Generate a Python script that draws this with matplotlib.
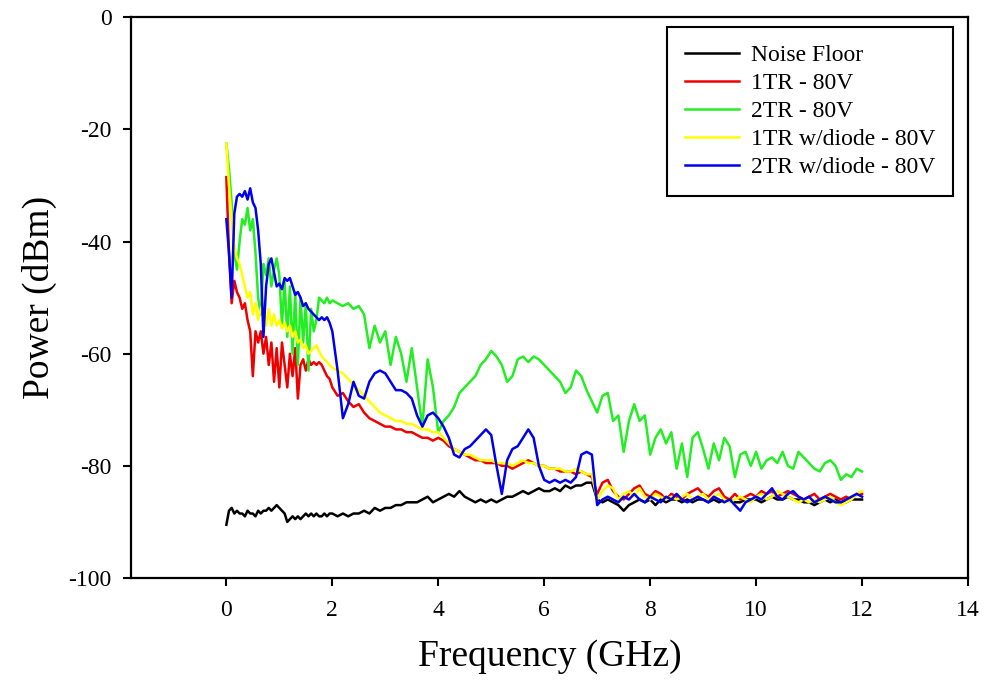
import numpy as np
import matplotlib
matplotlib.use("Agg")
import matplotlib.pyplot as plt

# ---------------- data ----------------
freq_lo = np.round(np.arange(40) * 0.05, 2)          # 0.00 .. 1.95 GHz
freq_hi = np.round(2.0 + np.arange(101) * 0.1, 2)    # 2.0 .. 12.0 GHz
freq = np.concatenate([freq_lo, freq_hi])

noise_floor = [
    -90.5, -88, -87.5, -88.5, -88, -88.5, -88.5, -89, -88, -88.5,
    -88.5, -89, -88, -88.5, -88, -88, -87.5, -88, -87.5, -87,
    -87.5, -88, -88.5, -90, -89.5, -89, -89.5, -89, -89.5, -89,
    -88.5, -89, -88.5, -89, -88.5, -89, -89, -88.5, -89, -88.5,
    # 2.0 ..
    -88.5, -89, -88.5, -89, -88.5, -88.5, -88, -88.5, -87.5, -88,
    -87.5, -87.5, -87, -87, -86.5, -86.5, -86.5, -86, -85.5, -86.5,
    -86, -85.5, -85, -85.5, -84.5, -85.5, -86, -86.5, -86, -86.5,
    -86, -86.5, -86, -85.5, -85.5, -85, -84.5, -85, -84.5, -84,
    -84.5, -84.5, -84, -84.5, -83.5, -84, -83.5, -83.5, -83, -83,
    -86, -86.5, -86, -86.5, -87, -88, -87, -86.5, -86, -86.5,
    -86, -87, -86, -86.5, -86, -86, -86.5, -86, -86.5, -86,
    -86, -86.5, -86, -86.5, -86, -86, -86.5, -86.5, -86, -86,
    -86, -86.5, -86, -85.5, -86, -86, -85.5, -86, -86, -86.5,
    -86.5, -87, -86.5, -86, -86.5, -86, -86.5, -86.5, -86, -86,
    -86,
]

tr1 = [
    -28.5, -42, -51, -47, -49, -50, -52, -51, -54, -56,
    -64, -56, -58, -56, -60, -57, -62, -58, -65, -59,
    -66, -58, -62, -66, -60, -64, -59, -68, -62, -61,
    -63, -61, -62, -61.5, -62, -61.5, -62, -63, -64, -64.5,
    # 2.0 ..
    -66, -67.5, -67, -68.5, -69.5, -69, -70.5, -71.5, -72, -72.5,
    -73, -73, -73.5, -73.5, -74, -74, -74.5, -75, -75, -75.5,
    -75, -75.5, -76.5, -77, -77.5, -78, -78.5, -79, -79, -79.5,
    -79.5, -79.5, -80, -80, -80.5, -80, -79.5, -79, -79.5, -80,
    -80, -80.5, -80.5, -81, -81, -81, -81.5, -81, -81.5, -82,
    -85, -83, -82.5, -84.5, -85.5, -86, -85, -84, -83.5, -85,
    -85.5, -84.5, -85, -86, -85, -85.5, -86, -85, -84.5, -84,
    -85, -85.5, -84.5, -84, -85.5, -86, -85, -86, -85.5, -85,
    -85.5, -84.5, -85, -84.5, -85.5, -85, -84.5, -85, -85.5, -86,
    -85.5, -85, -86, -85.5, -85, -85.5, -86, -85.5, -86, -85,
    -85,
]

tr2 = [
    -22.5, -27, -33, -42, -45, -40, -36, -37, -34, -38,
    -36, -42, -50, -53, -44, -46, -43, -48, -45, -43,
    -46, -55, -47, -57, -48, -60, -49, -62, -50, -58,
    -51, -63, -52, -56, -54, -50, -50.5, -51, -50, -51,
    # 2.0 ..
    -50.5, -51, -51.5, -51, -52, -51.5, -53, -59, -55, -58,
    -56, -62, -57, -60, -65, -59, -66, -73, -61, -66,
    -74, -72, -71, -69.5, -67, -66, -65, -64, -62, -61,
    -59.5, -60.5, -62, -65, -64, -61, -60.5, -61.5, -60.5, -61,
    -62, -63, -64, -65, -67, -66, -63, -64, -66.5, -68.5,
    -70.5, -67.5, -67, -72, -71, -77.5, -72, -69, -72, -71,
    -78, -75, -73.5, -76, -74, -80.5, -76, -82, -75, -74,
    -77, -80.5, -76, -79, -75, -76.5, -82, -78, -77.5, -80,
    -77.5, -80.5, -79, -78.5, -79.5, -77.5, -80, -80.5, -77.5, -78.5,
    -79.5, -80.5, -81, -79.5, -79, -80, -82.5, -81.5, -82, -80.5,
    -81,
]

tr1_diode = [
    -22.5, -30, -36, -41, -43, -44, -46, -48, -50, -49,
    -53, -51, -54, -52, -51, -55, -52, -55, -53, -55,
    -54, -55.5, -54.5, -56, -55, -57, -56, -58, -57.5, -59,
    -58.5, -60, -59.5, -59, -58.5, -59.5, -60.5, -61, -61.5, -62,
    # 2.0 ..
    -62.5, -63, -63.5, -64.5, -65.5, -66.5, -67.5, -68.5, -69.5, -70.5,
    -71, -71.5, -72, -72, -72.5, -72.5, -73, -73.5, -73.5, -74,
    -74, -75, -76, -77, -77.5, -78, -78, -78.5, -79, -79,
    -79, -79.5, -79.5, -79.5, -80, -79.5, -79, -79.5, -79.5, -80,
    -80, -80.5, -80.5, -80.5, -81, -81, -80.5, -81, -81.5, -81.5,
    -86, -84.5, -83.5, -84, -86, -85, -84.5, -85.5, -84, -85.5,
    -86, -85, -85.5, -86, -85.5, -86, -85.5, -85, -86, -85.5,
    -85, -86, -85.5, -85, -86, -86.5, -86, -85.5, -86, -86.5,
    -85.5, -85, -86, -85.5, -84.5, -85, -85.5, -86, -86.5, -86,
    -86.5, -86, -86.5, -86, -85.5, -86.5, -87, -86.5, -86, -85,
    -84.5,
]

tr2_diode = [
    -36, -42, -50, -35, -32, -31.5, -32, -31, -32.5, -30.5,
    -33, -34, -38, -44, -57, -48, -44, -43, -45.5, -48,
    -47.5, -48.5, -46.5, -47, -46.5, -48, -49.5, -49, -50, -51.5,
    -51, -52, -52.5, -53, -53.5, -54, -53.5, -54, -53.5, -54.5,
    # 2.0 ..
    -56, -63, -71.5, -69, -65, -67.5, -68, -65, -63.5, -63,
    -63.5, -65, -66.5, -66.5, -67, -68, -71, -73, -71, -70.5,
    -71.5, -73, -75, -78, -78.5, -77, -76.5, -75.5, -74.5, -73.5,
    -74.5, -80, -85, -79, -77, -76.5, -75, -73.5, -75, -80,
    -82.5, -83, -82.5, -83, -82.5, -83, -82, -78, -77.5, -78,
    -87, -86, -85.5, -86, -86.5, -85.5, -86, -85, -86, -86.5,
    -85.5, -86, -86.5, -85.5, -86, -85, -86, -86.5, -86, -85.5,
    -86, -86.5, -85.5, -86, -86.5, -86, -87, -88, -86.5, -86,
    -85.5, -86, -85, -84, -85.5, -86, -85, -84.5, -85.5, -86,
    -85.5, -86.5, -86, -85.5, -86, -86.5, -86.5, -86, -85.5, -85,
    -85.5,
]

labels = ["Noise Floor", "1TR - 80V", "2TR - 80V", "1TR w/diode - 80V", "2TR w/diode - 80V"]
series = [noise_floor, tr1, tr2, tr1_diode, tr2_diode]
colors = ["#000000", "#ee0000", "#22ee22", "#ffff00", "#0000ee"]

x_ticks = [0, 2, 4, 6, 8, 10, 12, 14]
y_ticks = [-100, -80, -60, -40, -20, 0]

# ---------------- plot ----------------
plt.rcParams["font.family"] = ["Liberation Serif", "DejaVu Serif"]
plt.rcParams["axes.unicode_minus"] = False

fig = plt.figure(figsize=(9.84, 6.82), dpi=100)
ax = fig.add_axes([131 / 984, 1 - 578 / 682, (968 - 131) / 984, (578 - 17.3) / 682])

for y, c, lab in zip(series, colors, labels):
    ax.plot(freq, y, color=c, lw=1.8, label=lab)

ax.set_xlim(-1.8, 14)
ax.set_ylim(-100, 0)
ax.set_xticks(x_ticks)
ax.set_yticks(y_ticks)
ax.tick_params(axis="both", direction="out", length=6, width=1.5, labelsize=17,
               top=False, right=False)
ax.tick_params(axis="x", pad=10)
ax.tick_params(axis="y", pad=8)
for s in ax.spines.values():
    s.set_linewidth(1.6)

ax.set_xlabel("Frequency (GHz)", fontsize=27, labelpad=13)
ax.set_ylabel("Power (dBm)", fontsize=27, labelpad=8)

leg = ax.legend(loc="upper right", bbox_to_anchor=(953 / 984, 1 - 27 / 682),
                bbox_transform=fig.transFigure, fontsize=17, frameon=True,
                fancybox=False, framealpha=1, edgecolor="black",
                handlelength=2.3, handletextpad=0.5, labelspacing=0.27,
                borderpad=0.75, borderaxespad=0)
leg.get_frame().set_linewidth(1.5)

fig.savefig("out.png", dpi=100)
